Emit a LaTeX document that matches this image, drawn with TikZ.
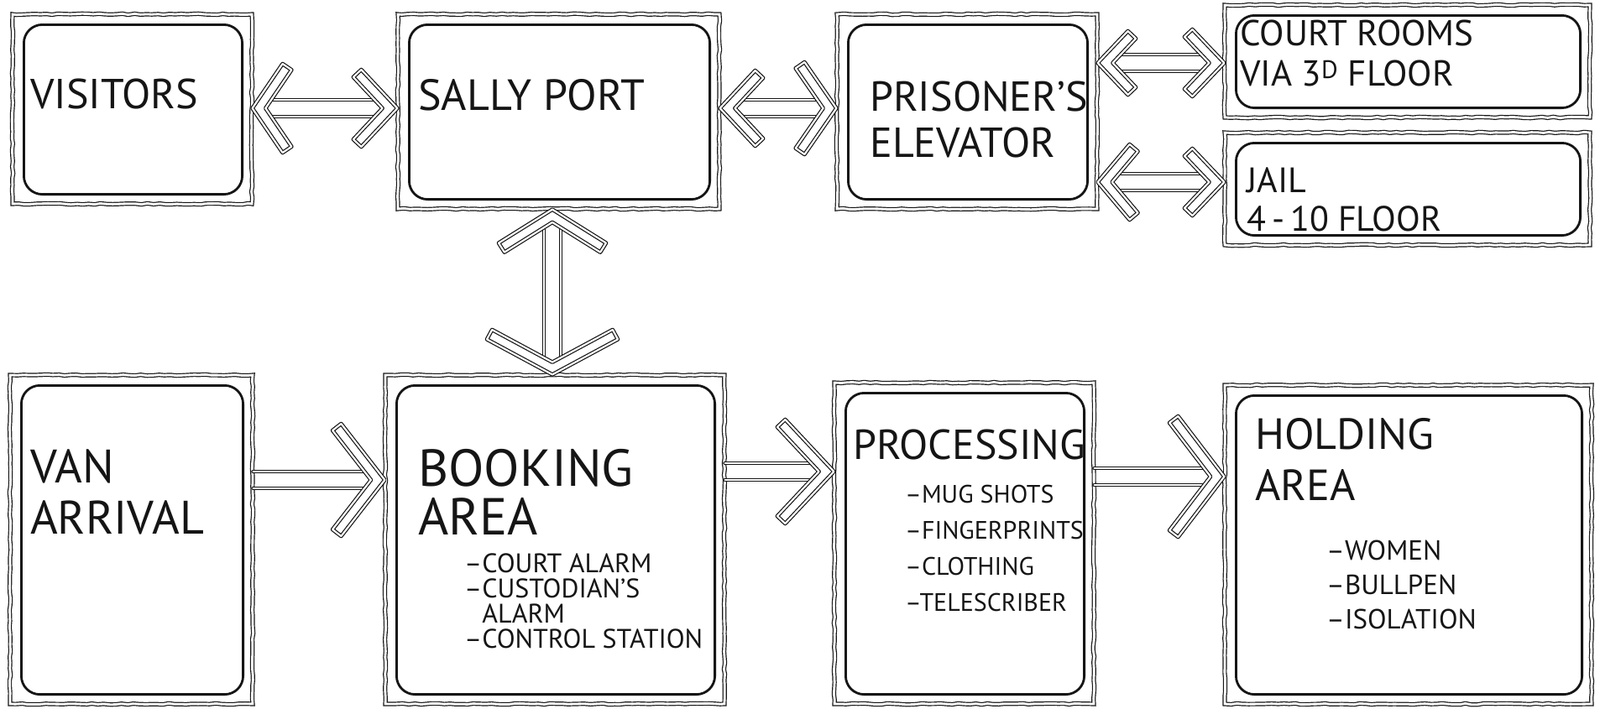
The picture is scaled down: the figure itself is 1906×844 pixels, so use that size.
\documentclass[tikz,border=0pt]{standalone}
\usepackage{fontspec}
\setmainfont{PT Sans}
\usetikzlibrary{calc,decorations.pathmorphing}
\definecolor{ink}{HTML}{151515}
\def\arrW{13}
\def\arrS{10}
% arrow head (hollow chevron): point, rotation, half-width H, length L
\newcommand\arrowhead[4]{%
  \pgfmathsetmacro\hdr{sqrt((#3)^2+(#4)^2)}%
  \pgfmathsetmacro\hdbx{-#4-\arrW*#3/\hdr}%
  \pgfmathsetmacro\hdby{#3-\arrW*#4/\hdr}%
  \pgfmathsetmacro\hdtx{-\arrW*\hdr/#3}%
  \draw[headline, shift={(#1)}, rotate=#2] (0,0) -- (-#4,#3) -- (\hdbx,\hdby) -- (\hdtx,0) -- (\hdbx,-\hdby) -- (-#4,-#3) -- cycle;%
}
\newcommand\gapof[2]{\pgfmathsetmacro\gapv{(\arrW*sqrt((#1)^2+(#2)^2)+\arrS*#2)/#1}}
% horizontal connector: start (left), end (right), Hs, Ls, He, Le  (H=0: no head)
\newcommand\hconn[6]{%
  \ifdim#3pt>0pt \gapof{#3}{#4}\let\ga\gapv\else\def\ga{0}\fi
  \ifdim#5pt>0pt \gapof{#5}{#6}\let\gb\gapv\else\def\gb{0}\fi
  \draw[shaftline] ([xshift=\ga pt, yshift=\arrS pt]#1) -- ([xshift=-\gb pt, yshift=\arrS pt]#2);
  \draw[shaftline] ([xshift=\ga pt, yshift=-\arrS pt]#1) -- ([xshift=-\gb pt, yshift=-\arrS pt]#2);
  \ifdim#3pt>0pt \arrowhead{#1}{180}{#3}{#4}\fi
  \ifdim#5pt>0pt \arrowhead{#2}{0}{#5}{#6}\fi
}
% vertical connector: start (top), end (bottom)
\newcommand\vconn[6]{%
  \ifdim#3pt>0pt \gapof{#3}{#4}\let\ga\gapv\else\def\ga{0}\fi
  \ifdim#5pt>0pt \gapof{#5}{#6}\let\gb\gapv\else\def\gb{0}\fi
  \draw[shaftline] ([xshift=\arrS pt, yshift=-\ga pt]#1) -- ([xshift=\arrS pt, yshift=\gb pt]#2);
  \draw[shaftline] ([xshift=-\arrS pt, yshift=-\ga pt]#1) -- ([xshift=-\arrS pt, yshift=\gb pt]#2);
  \ifdim#3pt>0pt \arrowhead{#1}{90}{#3}{#4}\fi
  \ifdim#5pt>0pt \arrowhead{#2}{-90}{#5}{#6}\fi
}
\tikzset{
  rough/.style={decorate, decoration={random steps, segment length=7pt, amplitude=0.7pt}},
  outerbox/.style={draw=ink, double=white, double distance=2.8pt, line width=1.2pt, inner sep=0pt, rough},
  innerbox/.style={draw=ink, line width=2.8pt, rounded corners=22pt, line join=round},
  shaftline/.style={draw=ink, double=white, double distance=2.4pt, line width=1.2pt, line cap=round},
  headline/.style={draw=ink, double=white, double distance=2.2pt, line width=1.2pt, line join=round, fill=white},
  lbl/.style={anchor=north west, inner sep=0pt, align=left, text=ink},
}
\newcommand\inner[1]{\draw[innerbox] ([shift={(14,13)}]#1.north west) rectangle ([shift={(-12,-12)}]#1.south east);}
\begin{document}
\begin{tikzpicture}[x=1pt, y=-1pt]
\fill[white] (0,0) rectangle (1906,844);
\useasboundingbox (0,0) rectangle (1906,844);

% boxes
\node[outerbox, minimum width=285pt, minimum height=226pt] (visitors) at (157.5,130) {};
\node[outerbox, minimum width=383pt, minimum height=232pt] (sally) at (665.5,133) {};
\node[outerbox, minimum width=310pt, minimum height=232pt] (elevator) at (1152,133) {};
\node[outerbox, minimum width=435pt, minimum height=134pt] (court) at (1676.5,73) {};
\node[outerbox, minimum width=435pt, minimum height=134pt] (jail) at (1676.5,225) {};
\node[outerbox, minimum width=289pt, minimum height=392pt] (van) at (156.5,643) {};
\node[outerbox, minimum width=404pt, minimum height=392pt] (booking) at (661,643) {};
\node[outerbox, minimum width=309pt, minimum height=383pt] (processing) at (1148.5,647.5) {};
\node[outerbox, minimum width=437pt, minimum height=380pt] (holding) at (1677.5,649) {};
\inner{visitors}\inner{sally}\inner{elevator}\inner{court}\inner{jail}
\inner{van}\inner{booking}\inner{processing}\inner{holding}

% labels
\node[lbl, font=\fontsize{50}{55}\selectfont] (tvis) at (36,94) {VISITORS};
\node[lbl, font=\fontsize{52}{55}\selectfont] (tsal) at (498,94) {SALLY PORT};
\node[lbl, font=\fontsize{50}{55}\selectfont] (tele) at (1036,97) {PRISONER’S\\ELEVATOR};
\node[lbl, font=\fontsize{43}{48}\selectfont] (tcou) at (1477,24) {COURT ROOMS\\VIA 3\textsuperscript{D} FLOOR};
\node[lbl, font=\fontsize{42}{46}\selectfont] (tjai) at (1485,199) {JAIL\\4\,-\,10 FLOOR};
\node[lbl, font=\fontsize{56}{61}\selectfont] (tvan) at (36,535) {VAN\\ARRIVAL};
\node[lbl, font=\fontsize{62}{58}\selectfont] (tboo) at (498,535) {BOOKING\\AREA};
\node[lbl, font=\fontsize{32}{30}\selectfont] (iboo) at (553,660) {–COURT ALARM\\–CUSTODIAN’S\\\phantom{–}ALARM\\–CONTROL STATION};
\node[lbl, font=\fontsize{50}{55}\selectfont] (tpro) at (1016,512) {PROCESSING};
\node[lbl, font=\fontsize{30}{43}\selectfont] (ipro) at (1078,578) {–MUG SHOTS\\–FINGERPRINTS\\–CLOTHING\\–TELESCRIBER};
\node[lbl, font=\fontsize{52}{61}\selectfont] (thol) at (1495,498) {HOLDING\\AREA};
\node[lbl, font=\fontsize{33}{41}\selectfont] (ihol) at (1580,644) {–WOMEN\\–BULLPEN\\–ISOLATION};

% connector rows
\coordinate (r1) at (0,129);
\coordinate (r2) at (0,75);
\coordinate (r3) at (0,217);
\coordinate (r4) at (0,572);
\coordinate (r5) at (0,562);
\coordinate (r6) at (0,568);
\coordinate (c1) at (658,0);
\coordinate (a1s) at (visitors.east |- r1);
\coordinate (a1e) at (sally.west |- r1);
\coordinate (a2s) at (sally.east |- r1);
\coordinate (a2e) at (elevator.west |- r1);
\coordinate (a3s) at (elevator.east |- r2);
\coordinate (a3e) at (court.west |- r2);
\coordinate (a4s) at (elevator.east |- r3);
\coordinate (a4e) at (jail.west |- r3);
\coordinate (a5s) at (sally.south -| c1);
\coordinate (a5e) at (booking.north -| c1);
\coordinate (a6s) at (van.east |- r4);
\coordinate (a6e) at (booking.west |- r4);
\coordinate (a7s) at (booking.east |- r5);
\coordinate (a7e) at (processing.west |- r5);
\coordinate (a8s) at (processing.east |- r6);
\coordinate (a8e) at (holding.west |- r6);

\hconn{a1s}{a1e}{53}{36}{46}{43}
\hconn{a2s}{a2e}{45}{42}{55}{38}
\hconn{a3s}{a3e}{38}{36}{40}{38}
\hconn{a4s}{a4e}{45}{38}{40}{38}
\vconn{a5s}{a5e}{64}{40}{78}{42}
\hconn{a6s}{a6e}{0}{0}{67}{52}
\hconn{a7s}{a7e}{0}{0}{62}{58}
\hconn{a8s}{a8e}{0}{0}{72}{55}
\end{tikzpicture}
\end{document}
